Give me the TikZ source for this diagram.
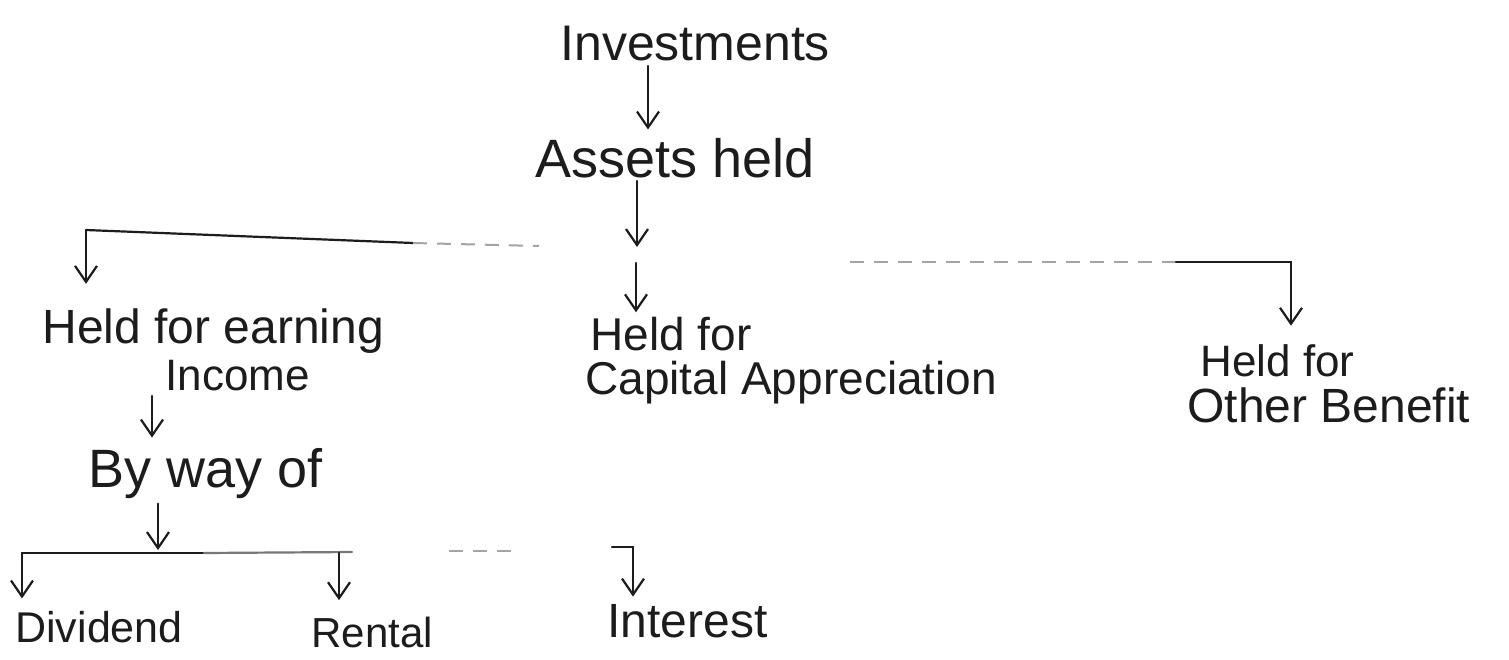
\documentclass[tikz,border=0pt]{standalone}
\usepackage{fontspec}
\setmainfont{Liberation Sans}
\usetikzlibrary{arrows.meta}
\definecolor{inkc}{HTML}{1C1C1C}
\begin{document}
\begin{tikzpicture}[x=0.5pt,y=-0.5pt,
  ink/.style={draw=inkc, line width=1.1pt, line cap=round},
  arr/.style={ink, -{Straight Barb[length=8pt,width=11pt]}, shorten >=#1},
  arr/.default=3pt,
  faint/.style={draw=inkc!40, line width=1pt, dash pattern=on 7pt off 5pt},
  lbl/.style={anchor=base west, inner sep=0pt, text=inkc,
              font=\fontsize{#1}{#1}\selectfont}]
  % canvas
  \fill[white] (0,0) rectangle (1509,659);
  \useasboundingbox (0,0) rectangle (1509,659);

  % labels (placed by left edge and baseline)
  \node[lbl=25pt]   (inv)    at (560,60)   {Investments};
  \node[lbl=27pt]   (assets) at (535,177)  {Assets held};
  \node[lbl=24pt]   (earn)   at (42,343)   {Held for earning};
  \node[lbl=22pt]   (income) at (165,390)  {Income};
  \node[lbl=27pt]   (byway)  at (88,487)   {By way of};
  \node[lbl=23pt]   (cap)    at (590,350)  {Held for};
  \node[lbl=23pt]   (capapp) at (585,394)  {Capital Appreciation};
  \node[lbl=22pt]   (oth)    at (1200,376) {Held for};
  \node[lbl=24pt]   (othben) at (1187,422) {Other Benefit};
  \node[lbl=21.5pt] (div)    at (15,642)   {Dividend};
  \node[lbl=21pt]   (rent)   at (311,647)  {Rental};
  \node[lbl=24pt]   (intr)   at (607,637)  {Interest};

  % helper points for the branching bars
  \coordinate (xa)   at (648,0);
  \coordinate (hub)  at (637,247);
  \coordinate (hubb) at (636,263);
  \coordinate (bl)   at (86,230);
  \coordinate (blm)  at (413,243);
  \coordinate (ble)  at (539,246);
  \coordinate (br0)  at (850,262);
  \coordinate (brm)  at (1176,262);
  \coordinate (br)   at (1291,262);
  \coordinate (ix)   at (152,0);
  \coordinate (bw)   at (158,550);
  \coordinate (bb0)  at (22,553);
  \coordinate (bbm)  at (204,553);
  \coordinate (bbe)  at (352,552);
  \coordinate (bd0)  at (449,551);
  \coordinate (bd1)  at (520,551);
  \coordinate (rx)   at (339,553);
  \coordinate (tk0)  at (612,547);
  \coordinate (tk)   at (633,547);

  % top chain
  \draw[arr=4pt, shorten <=2.5pt] (inv.south -| xa) -- (assets.north -| xa);
  \draw[arr=0pt, shorten <=1.5pt] (assets.south -| hub) -- (hub);

  % first level branches
  \draw[ink] (bl) -- (blm);
  \draw[faint] (blm) -- (ble);
  \draw[arr=12pt] (bl) -- (earn.north -| bl);
  \draw[arr=2pt] (hubb) -- (cap.north -| hubb);
  \draw[faint] (br0) -- (brm);
  \draw[ink] (brm) -- (br);
  \draw[arr=9pt] (br) -- (oth.north -| br);

  % income chain
  \draw[arr=5pt, shorten <=2.5pt] (income.south -| ix) -- (byway.north -| ix);
  \draw[arr=0pt, shorten <=2.5pt] (byway.south -| bw) -- (bw);

  % second level branches
  \draw[ink] (bb0) -- (bbm);
  \draw[ink, draw=inkc!60] (bbm) -- (bbe);
  \draw[faint] (bd0) -- (bd1);
  \draw[arr=6pt] (bb0) -- (div.north -| bb0);
  \draw[arr=8pt] (rx) -- (rent.north -| rx);
  \draw[arr=3.5pt] (tk0) -- (tk) -- (intr.north -| tk);
\end{tikzpicture}
\end{document}
